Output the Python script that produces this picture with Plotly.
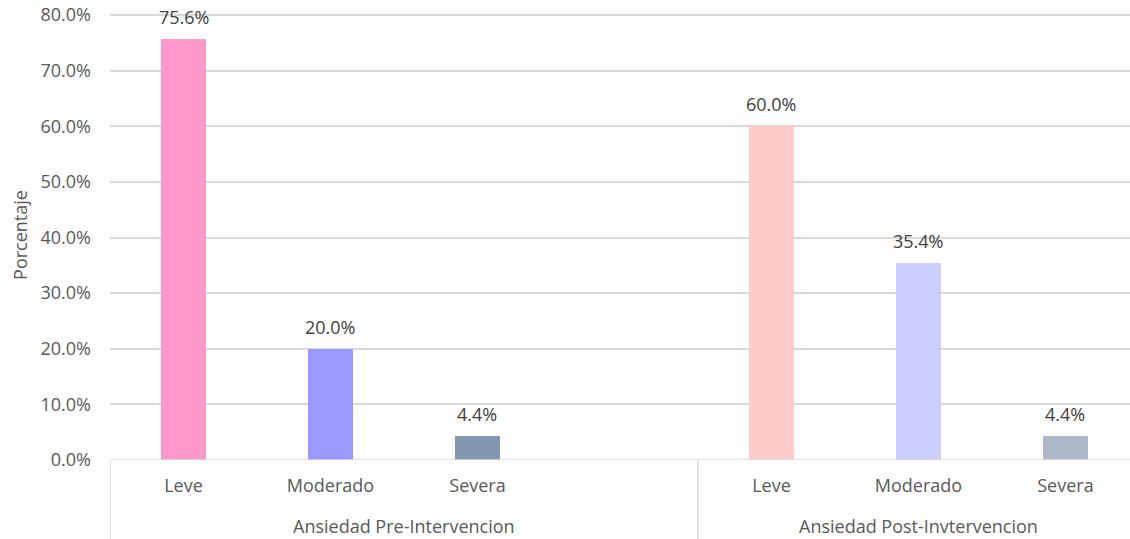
import plotly.graph_objects as go

categories = ["Leve", "Moderado", "Severa"]
groups = ["Ansiedad Pre-Intervencion", "Ansiedad Post-Invtervencion"]
pre_values = [75.6, 20.0, 4.4]
post_values = [60.0, 35.4, 4.4]
pre_colors = ["#FF99CC", "#9999FF", "#8497B0"]
post_colors = ["#FFCCCC", "#CCCCFF", "#ADB9CA"]
y_ticks = [0, 10, 20, 30, 40, 50, 60, 70, 80]

FONT = "'Open Sans', sans-serif"
TXT = "#595959"
FS = 18

# slot positions: group 1 has 3 bars + one empty slot, group 2 has 3 bars
pre_x = [i for i in range(len(categories))]
post_x = [len(categories) + 1 + i for i in range(len(categories))]

fig = go.Figure()
for xs, vals, cols in [(pre_x, pre_values, pre_colors), (post_x, post_values, post_colors)]:
    fig.add_trace(go.Bar(
        x=xs, y=vals, marker=dict(color=cols, line=dict(width=0)),
        width=0.31, showlegend=False, hoverinfo="x+y",
    ))
    for xv, v in zip(xs, vals):
        fig.add_annotation(x=xv, y=v, xref="x", yref="y", text=f"{v:.1f}%",
                           showarrow=False, yanchor="bottom", yshift=8,
                           font=dict(family=FONT, size=FS, color="#404040"))

fig.update_layout(
    width=1130, height=539,
    margin=dict(l=110, r=0, t=10, b=79),
    paper_bgcolor="white", plot_bgcolor="white",
    font=dict(family=FONT, size=FS, color=TXT),
    bargap=0,
)
fig.update_xaxes(
    range=[-0.5, 6.439],
    tickvals=pre_x + post_x, ticktext=categories + categories,
    showgrid=False, zeroline=False, showline=False,
    ticks="", ticklabelstandoff=13,
    tickfont=dict(family=FONT, size=FS, color=TXT),
)
fig.update_yaxes(
    range=[0, 80.9], tickvals=y_ticks, ticktext=[f"{t:.1f}%" for t in y_ticks],
    showgrid=True, gridcolor="#D9D9D9", gridwidth=1.5,
    zeroline=False, showline=False,
    ticklabelstandoff=18,
    tickfont=dict(family=FONT, size=FS, color=TXT),
    title=dict(text="Porcentaje", font=dict(family=FONT, size=FS, color=TXT), standoff=8),
)

# axis line at 0
fig.add_shape(type="line", xref="paper", yref="y", x0=0, x1=1, y0=0, y1=0,
              line=dict(color="#D9D9D9", width=1.5))
# group separators
for xv in [-0.5, len(categories) + 0.5]:
    fig.add_shape(type="line", xref="x", yref="paper", x0=xv, x1=xv, y0=0, y1=-0.18,
                  line=dict(color="#D9D9D9", width=1.5))
# group labels
centers = [(pre_x[0] + len(categories)) / 2, sum(post_x) / len(post_x)]
for g, c in zip(groups, centers):
    fig.add_annotation(x=c, xref="x", y=-0.146, yref="paper", text=g, showarrow=False,
                       font=dict(family=FONT, size=FS, color=TXT), yanchor="middle")

fig.write_html("out.html", config={"displayModeBar": False},
               post_script="document.body.style.margin='0';")
